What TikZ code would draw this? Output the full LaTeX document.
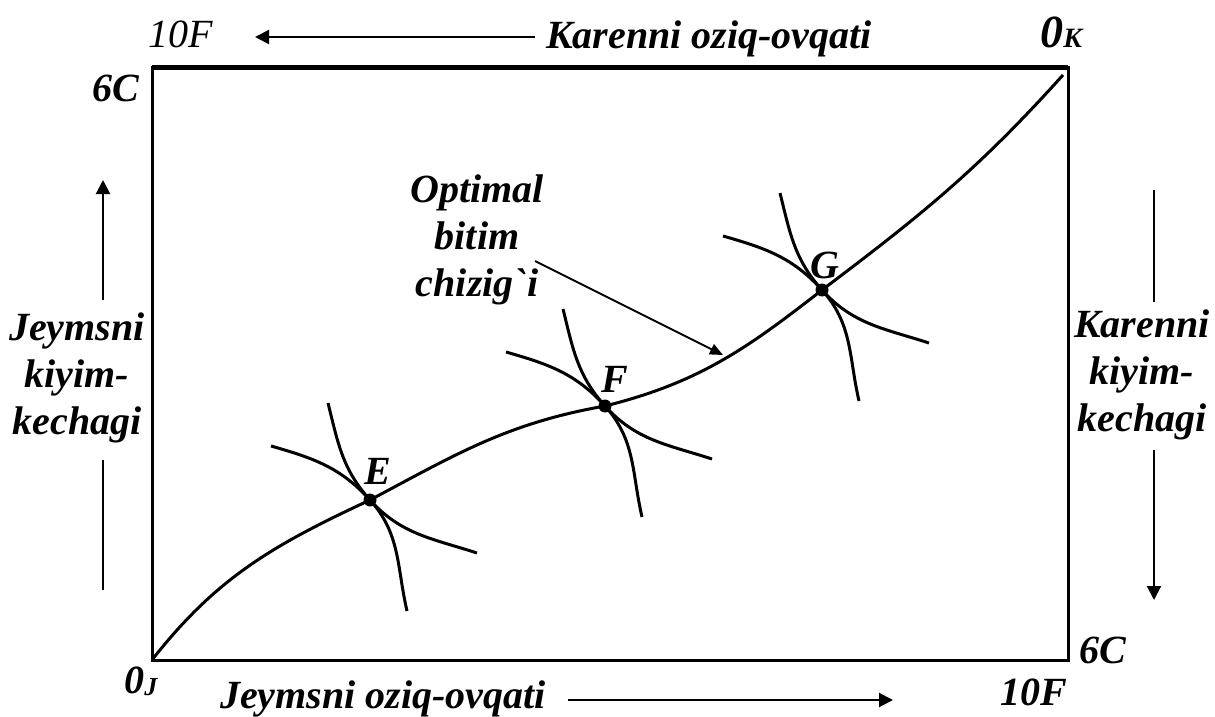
\documentclass[tikz,border=0pt]{standalone}
\usepackage{fontspec}
\setmainfont{Liberation Serif}[Ligatures=TeXOff]
\usetikzlibrary{arrows.meta}
\begin{document}
\begin{tikzpicture}[x=0.5pt,y=0.5pt,
  lbl/.style={font=\fontsize{20}{23.5}\selectfont\bfseries\itshape, inner sep=0pt, align=center},
  lblreg/.style={font=\fontsize{20}{23.5}\selectfont\itshape, inner sep=0pt},
  ptlbl/.style={font=\fontsize{20}{23.5}\selectfont\bfseries\itshape, inner sep=0pt},
  boxline/.style={line width=1.5pt},
  curve/.style={line width=1.5pt},
  ln/.style={line width=1pt},
  arr/.style={line width=1pt, -{Triangle[length=7pt,width=7pt]}},
  arrsm/.style={line width=1pt, -{Triangle[length=6.5pt,width=5.5pt]}},
  dot/.style={circle, fill=black, inner sep=0pt, minimum size=6.5pt},
  pics/indiff/.style={code={
    \draw[curve] (-42,97) to[out=-76,in=132] (0,0) to[out=-48,in=162] (107,-53);
    \draw[curve] (-99,54) to[out=-16,in=132] (0,0) to[out=-48,in=103] (37,-111);
  }}
]
\useasboundingbox (0,0) rectangle (1215,-717);

% box
\coordinate (OJ) at (152,-660);
\coordinate (OK) at (1068,-68);
\coordinate (CE) at (1063,-75);
\draw[boxline] (OJ) rectangle (OK);
\draw[line width=2.5pt] (OJ |- OK) -- (OK);

% points
\node[dot] (E) at (370,-500) {};
\node[dot] (F) at (605,-406) {};
\node[dot] (G) at (822,-290) {};

% contract curve
\draw[curve] (OJ) to[out=52,in=205] (E.center) to[out=28,in=190] (F.center)
  to[out=14,in=218] (G.center) to[out=37,in=228] (CE);

\pic at (E) {indiff};
\pic at (F) {indiff};
\pic at (G) {indiff};
\node[ptlbl] (Elbl) at (378,-471) {E};
\node[ptlbl] (Flbl) at (615,-379) {F};
\node[ptlbl] (Glbl) at (825,-265) {G};

% corner labels
\node[lblreg, anchor=base] (tl10F) at (181,-48) {10F};
\node[lbl, anchor=base] (topt) at (709,-49) {Karenni oziq-ovqati};
\node[lbl, anchor=base west] (oK) at (1040,-48) {{\fontsize{23}{23}\selectfont 0}{\fontsize{14}{14}\selectfont K}};
\node[lbl, anchor=base] (tl6C) at (116,-102) {6C};
\node[lbl, anchor=base] (br6C) at (1103,-663) {6C};
\node[lbl, anchor=base west] (oJ) at (124,-693) {0\raisebox{-1pt}{\fontsize{13}{13}\selectfont J}};
\node[lbl, anchor=base] (botx) at (383,-708) {Jeymsni oziq-ovqati};
\node[lbl, anchor=base] (br10F) at (1034,-705) {10F};

% side labels
\node[lbl] (leftt) at (77,-378) {Jeymsni\\kiyim-\\kechagi};
\node[lbl] (rightt) at (1142,-375) {Karenni\\kiyim-\\kechagi};
\node[lbl] (opt) at (477,-240) {Optimal\\bitim\\chizig`i};

% arrows
\coordinate (ta1) at (535,-37);
\coordinate (ta2) at (255,-37);
\draw[arr] (ta1) -- (ta2);
\coordinate (ba1) at (568,-700);
\coordinate (ba2) at (893,-700);
\draw[arr] (ba1) -- (ba2);
\coordinate (lb1) at (103,-590);
\coordinate (lb2) at (103,-460);
\draw[ln] (lb1) -- (lb2);
\coordinate (lu1) at (103,-300);
\coordinate (lu2) at (103,-180);
\draw[arr] (lu1) -- (lu2);
\coordinate (ru1) at (1154,-190);
\coordinate (ru2) at (1154,-302);
\draw[ln] (ru1) -- (ru2);
\coordinate (rd1) at (1154,-450);
\coordinate (rd2) at (1154,-600);
\draw[arr] (rd1) -- (rd2);
\coordinate (oa1) at (535,-261);
\coordinate (oa2) at (723,-355);
\draw[arrsm] (oa1) -- (oa2);
\end{tikzpicture}
\end{document}
